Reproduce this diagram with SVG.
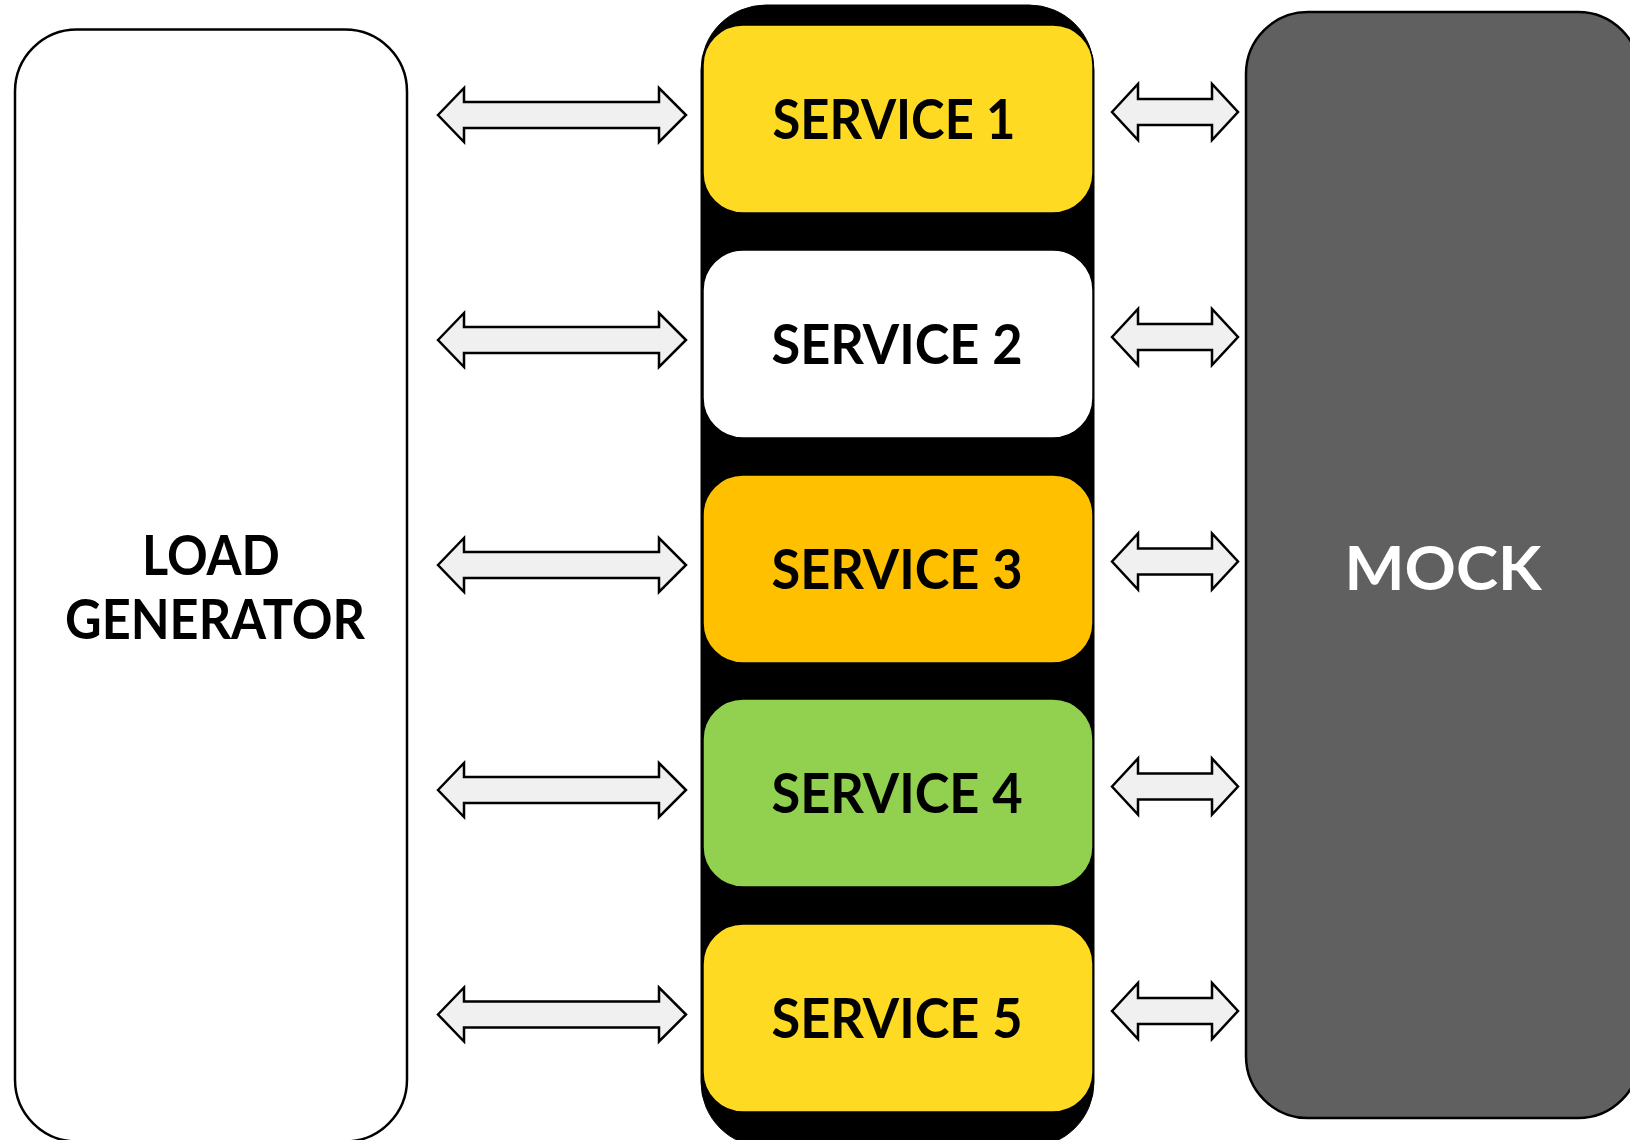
<svg xmlns="http://www.w3.org/2000/svg" width="1630" height="1140" viewBox="0 0 1630 1140">
<style>
.lbl{font-family:"Lato","Liberation Sans",sans-serif;font-weight:700;text-anchor:middle}
.svc{stroke:#000;stroke-width:1.5}
.arr{fill:#f0f0f0;stroke:#000;stroke-width:2.5;stroke-linejoin:miter}
</style>
<defs>
<path id="la" d="M438,0 L464,-27 L464,-13 L659,-13 L659,-27 L686,0 L659,27 L659,13 L464,13 L464,27 Z"/>
<path id="ra" d="M1112,0 L1138,-28 L1138,-13 L1212,-13 L1212,-28 L1238,0 L1212,28 L1212,13 L1138,13 L1138,28 Z"/>
</defs>
<rect width="1630" height="1140" fill="#fff"/>
<g id="load-generator">
<rect x="15" y="29.5" width="392" height="1112" rx="62" fill="#fff" stroke="#000" stroke-width="2.5"/>
<text class="lbl" x="211" y="575" font-size="55" textLength="138" lengthAdjust="spacingAndGlyphs">LOAD</text>
<text class="lbl" x="215" y="639" font-size="55" textLength="300" lengthAdjust="spacingAndGlyphs">GENERATOR</text>
</g>
<g id="services-container">
<rect x="701" y="5" width="393" height="1142" rx="65" fill="#000" stroke="#000" stroke-width="1"/>
</g>
<g id="service-1">
<rect class="svc" x="703" y="25" width="390" height="188" rx="40" fill="#FFDA22"/>
<text class="lbl" x="894" y="139" font-size="55" textLength="243" lengthAdjust="spacingAndGlyphs">SERVICE 1</text>
</g>
<g id="service-2">
<rect class="svc" x="703" y="250" width="390" height="188" rx="40" fill="#fff"/>
<text class="lbl" x="897" y="364" font-size="55" textLength="251" lengthAdjust="spacingAndGlyphs">SERVICE 2</text>
</g>
<g id="service-3">
<rect class="svc" x="703" y="475" width="390" height="188" rx="40" fill="#FFC000"/>
<text class="lbl" x="897" y="589" font-size="55" textLength="251" lengthAdjust="spacingAndGlyphs">SERVICE 3</text>
</g>
<g id="service-4">
<rect class="svc" x="703" y="699" width="390" height="188" rx="40" fill="#92D050"/>
<text class="lbl" x="897" y="813" font-size="55" textLength="251" lengthAdjust="spacingAndGlyphs">SERVICE 4</text>
</g>
<g id="service-5">
<rect class="svc" x="703" y="924" width="390" height="188" rx="40" fill="#FFDA22"/>
<text class="lbl" x="897" y="1038" font-size="55" textLength="251" lengthAdjust="spacingAndGlyphs">SERVICE 5</text>
</g>
<g id="mock">
<rect x="1246" y="12" width="394" height="1106" rx="62" fill="#606060" stroke="#000" stroke-width="2.5"/>
<text class="lbl" x="1443" y="590" font-size="62" fill="#fff" font-weight="600" textLength="197" lengthAdjust="spacingAndGlyphs">MOCK</text>
</g>
<g id="connectors">
<use href="#la" class="arr" transform="translate(0,115)"/>
<use href="#la" class="arr" transform="translate(0,340)"/>
<use href="#la" class="arr" transform="translate(0,565)"/>
<use href="#la" class="arr" transform="translate(0,790)"/>
<use href="#la" class="arr" transform="translate(0,1014.5)"/>
<use href="#ra" class="arr" transform="translate(0,112)"/>
<use href="#ra" class="arr" transform="translate(0,337)"/>
<use href="#ra" class="arr" transform="translate(0,561.5)"/>
<use href="#ra" class="arr" transform="translate(0,786.5)"/>
<use href="#ra" class="arr" transform="translate(0,1011)"/>
</g>
</svg>
